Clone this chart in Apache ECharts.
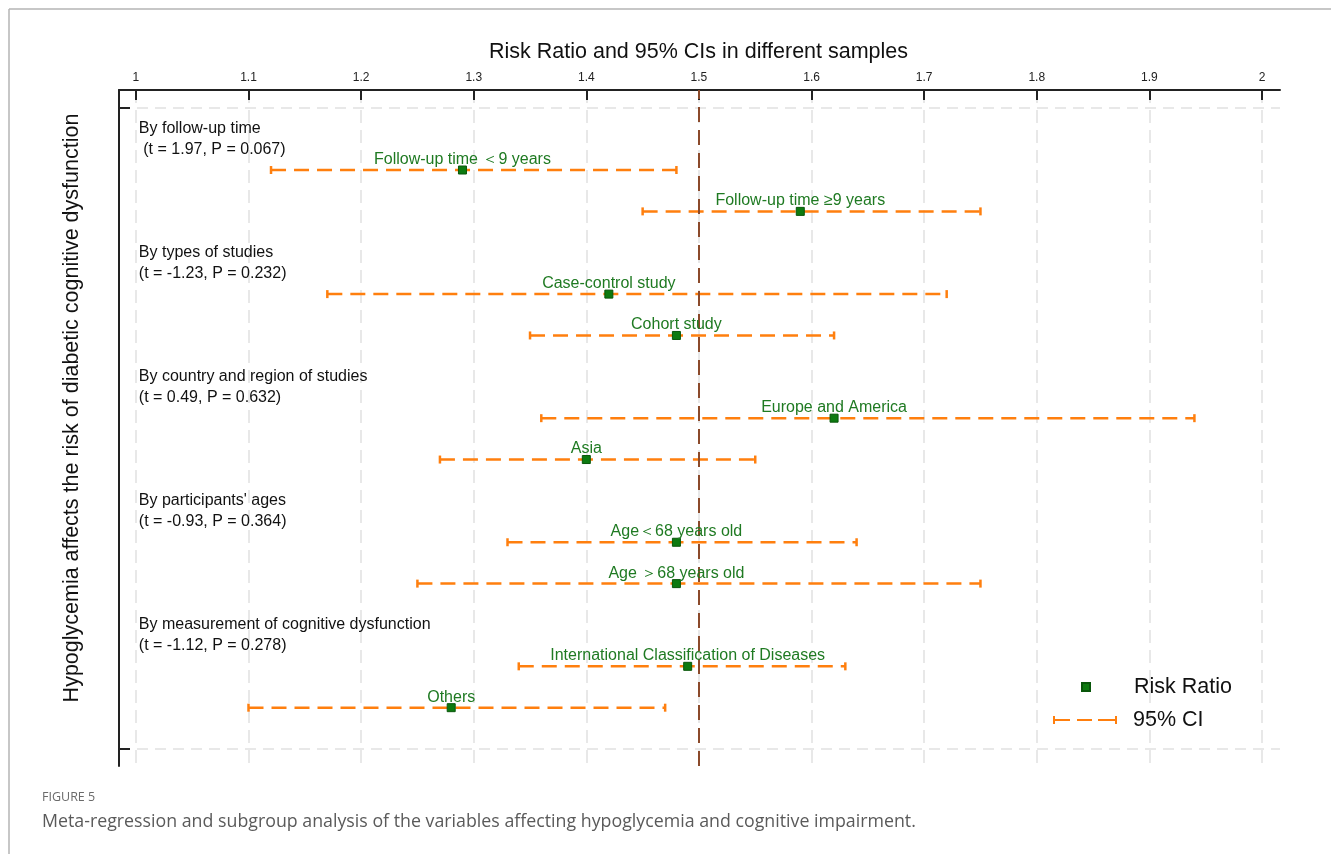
<!DOCTYPE html>
<html>
<head>
<meta charset="utf-8">
<script src="https://cdn.jsdelivr.net/npm/echarts@6/dist/echarts.min.js"></script>
<style>
  html, body { margin: 0; padding: 0; background: #ffffff; }
  #chart { width: 1331px; height: 854px; }
</style>
</head>
<body>
<div id="chart"></div>
<script>
// ---------- data ----------
const groupTitles = [
  'By follow-up time',
  'By types of studies',
  'By country and region of studies',
  "By participants' ages",
  'By measurement of cognitive dysfunction'
];
const groupStats = [
  ' (t = 1.97, P = 0.067)',
  '(t = -1.23, P = 0.232)',
  '(t = 0.49, P = 0.632)',
  '(t = -0.93, P = 0.364)',
  '(t = -1.12, P = 0.278)'
];
const subgroups = [
  'Follow-up time \uFF1C9 years',
  'Follow-up time \u22659 years',
  'Case-control study',
  'Cohort study',
  'Europe and America',
  'Asia',
  'Age\uFF1C68 years old',
  'Age \uFF1E68 years old',
  'International Classification of Diseases',
  'Others'
];
const riskRatio = [1.29, 1.59, 1.42, 1.48, 1.62, 1.40, 1.48, 1.48, 1.49, 1.28];
const ciLower   = [1.12, 1.45, 1.17, 1.35, 1.36, 1.27, 1.33, 1.25, 1.34, 1.10];
const ciUpper   = [1.48, 1.75, 1.72, 1.62, 1.94, 1.55, 1.64, 1.75, 1.63, 1.47];
const xTicks = [1, 1.1, 1.2, 1.3, 1.4, 1.5, 1.6, 1.7, 1.8, 1.9, 2];
const refValue = 1.5;

// ---------- row layout (derived from group structure) ----------
const itemsPerGroup = 2;
const rowsPerGroup = itemsPerGroup + 1;
const topRow = groupTitles.length * rowsPerGroup;          // 15
const headerRow = g => topRow - rowsPerGroup * g;
const itemRow = i => headerRow(Math.floor(i / itemsPerGroup)) - 1 - (i % itemsPerGroup);

const pointData = riskRatio.map((v, i) => ({ value: [v, itemRow(i)], name: subgroups[i] }));
const ciData = riskRatio.map((v, i) => [ciLower[i], ciUpper[i], itemRow(i)]);
const headerData = groupTitles.map((t, g) => ({
  value: [xTicks[0], headerRow(g)],
  name: t + '\n' + groupStats[g]
}));

const FONT = "'Liberation Sans', Arial, sans-serif";
const ORANGE = '#ff7f0e';
const GREEN = '#0d7a10';
const GRID_C = '#e8e8e8';

const chart = echarts.init(document.getElementById('chart'), null, { renderer: 'canvas' });

const option = {
  animation: false,
  backgroundColor: '#ffffff',
  title: [
    {
      text: 'Risk Ratio and 95% CIs in different samples',
      left: 484, top: 36,
      textStyle: { fontFamily: FONT, fontSize: 21.5, fontWeight: 'normal', color: '#111' }
    },
    {
      text: 'FIGURE 5',
      left: 37, top: 786,
      textStyle: { fontFamily: "'Open Sans', sans-serif", fontSize: 12.5, fontWeight: 'normal', color: '#6a6a6a' }
    },
    {
      text: 'Meta-regression and subgroup analysis of the variables affecting hypoglycemia and cognitive impairment.',
      left: 37, top: 808,
      textStyle: { fontFamily: "'Open Sans', sans-serif", fontSize: 17.8, fontWeight: 'normal', color: '#5a5a5a' }
    }
  ],
  graphic: [
    { type: 'line', shape: { x1: 9, y1: 9, x2: 1331, y2: 9 }, style: { stroke: '#b4b4b4', lineWidth: 1.5 }, silent: true },
    { type: 'line', shape: { x1: 9, y1: 9, x2: 9, y2: 854 }, style: { stroke: '#b4b4b4', lineWidth: 1.5 }, silent: true }
  ],
  legend: [
    {
      data: [{ name: 'Risk Ratio', icon: 'path://M0,0h8v8h-8z' }],
      left: 1081, top: 676, padding: 0,
      itemWidth: 64, itemHeight: 8,
      textStyle: { fontFamily: FONT, fontSize: 21.5, color: '#111', padding: [0, 0, 0, 11] }
    },
    {
      data: [{ name: '95% CI', icon: 'path://M0,3h2v8h-2z M0,6h17v2h-17z M24,6h15v2h-15z M45,6h19v2h-19z M62,3h2v8h-2z' }],
      left: 1053, top: 709, padding: 0,
      itemWidth: 64, itemHeight: 8,
      textStyle: { fontFamily: FONT, fontSize: 21.5, color: '#111', padding: [0, 0, 0, 11] }
    }
  ],
  grid: { left: 119, right: 51, top: 90, bottom: 88, containLabel: false },
  xAxis: {
    type: 'value',
    position: 'top',
    min: 0.985, max: 2.016,
    axisLine: { show: true, onZero: false, lineStyle: { color: '#222', width: 2 } },
    axisTick: { show: true, inside: true, length: 10, customValues: xTicks, lineStyle: { color: '#222', width: 2 } },
    axisLabel: { show: true, customValues: xTicks, margin: 6, fontSize: 12, fontFamily: FONT, color: '#222',
                 formatter: v => String(Math.round(v * 10) / 10) },
    splitLine: { show: true, lineStyle: { color: GRID_C, width: 2, type: [13, 7] } }
  },
  yAxis: {
    type: 'value',
    min: -0.41, max: 15.935,
    name: 'Hypoglycemia affects the risk of diabetic cognitive dysfunction',
    nameLocation: 'middle',
    nameGap: 36,
    nameTextStyle: { fontFamily: FONT, fontSize: 21.5, color: '#111', padding: [0, 0, 0, 40] },
    axisLine: { show: true, onZero: false, lineStyle: { color: '#222', width: 2 } },
    axisTick: { show: true, inside: true, length: 11, customValues: [0, topRow + 0.5], lineStyle: { color: '#222', width: 2 } },
    axisLabel: { show: false },
    splitLine: { show: true, lineStyle: { color: GRID_C, width: 2, type: [11, 7] } }
  },
  series: [
    {
      name: 'headers',
      type: 'scatter',
      data: headerData,
      symbolSize: 0.1,
      itemStyle: { color: 'transparent', opacity: 1 },
      silent: true,
      z: 5,
      label: {
        show: true,
        position: [3, -10.5],
        align: 'left',
        verticalAlign: 'top',
        formatter: p => p.name,
        fontFamily: FONT, fontSize: 16, lineHeight: 21, color: '#111'
      }
    },
    {
      name: '95% CI',
      type: 'custom',
      data: ciData,
      encode: { x: [0, 1], y: 2 },
      itemStyle: { color: ORANGE },
      z: 3,
      renderItem: function (params, api) {
        const y = api.value(2);
        const lo = api.coord([api.value(0), y]);
        const hi = api.coord([api.value(1), y]);
        const cap = 4;
        return {
          type: 'group',
          children: [
            { type: 'line', shape: { x1: lo[0], y1: lo[1], x2: hi[0], y2: hi[1] },
              style: { stroke: ORANGE, lineWidth: 2.5, lineDash: [15, 8], fill: null } },
            { type: 'line', shape: { x1: lo[0], y1: lo[1] - cap, x2: lo[0], y2: lo[1] + cap },
              style: { stroke: ORANGE, lineWidth: 2.5, fill: null } },
            { type: 'line', shape: { x1: hi[0], y1: hi[1] - cap, x2: hi[0], y2: hi[1] + cap },
              style: { stroke: ORANGE, lineWidth: 2.5, fill: null } }
          ]
        };
      }
    },
    {
      name: 'Risk Ratio',
      type: 'scatter',
      data: pointData,
      symbol: 'rect',
      symbolSize: 8,
      itemStyle: { color: GREEN, borderColor: '#08560a', borderWidth: 1, opacity: 1 },
      z: 6,
      label: {
        show: true,
        position: 'top',
        distance: -2,
        formatter: p => p.name,
        fontFamily: FONT, fontSize: 16, color: '#1f7a22'
      },
      markLine: {
        silent: true,
        symbol: ['none', 'none'],
        label: { show: false },
        lineStyle: { color: '#8b4a2b', width: 2, type: [15, 8] },
        data: [{ xAxis: refValue }],
        z: 4
      }
    }
  ]
};
chart.setOption(option);
</script>
</body>
</html>
